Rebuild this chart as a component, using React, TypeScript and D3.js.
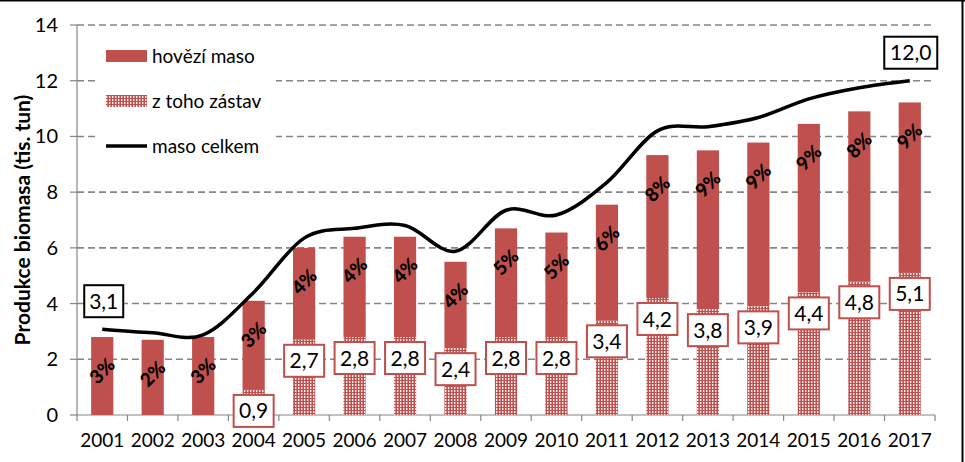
import { useEffect } from "react";
import * as d3 from "d3";

const years = ["2001", "2002", "2003", "2004", "2005", "2006", "2007", "2008", "2009", "2010", "2011", "2012", "2013", "2014", "2015", "2016", "2017"];
// hovězí maso (tis. tun)
const beef = [2.8, 2.7, 2.8, 4.1, 6.0, 6.4, 6.4, 5.5, 6.7, 6.55, 7.55, 9.33, 9.5, 9.78, 10.45, 10.9, 11.22];
// z toho zástav
const zastav: (number | null)[] = [null, null, null, 0.9, 2.7, 2.8, 2.8, 2.4, 2.8, 2.8, 3.4, 4.2, 3.8, 3.9, 4.4, 4.8, 5.1];
// maso celkem
const total = [3.08, 2.95, 2.88, 4.4, 6.35, 6.7, 6.8, 5.88, 7.35, 7.18, 8.35, 10.2, 10.35, 10.68, 11.35, 11.75, 12.0];
const shares = ["3%", "2%", "3%", "3%", "4%", "4%", "4%", "4%", "5%", "5%", "6%", "8%", "9%", "9%", "9%", "8%", "9%"];
const yTicks = [0, 2, 4, 6, 8, 10, 12, 14];

const RED = "#C0504D";
const FONT = "Lato, 'Open Sans', sans-serif";
const fmt = (v: number) => v.toFixed(1).replace(".", ",");

export default function App() {
  useEffect(() => {
    document.body.style.margin = "0";
  }, []);

  const width = 965;
  const height = 462;
  const left = 77;
  const right = 935;
  const top = 25;
  const bottom = 415;

  const x = d3.scaleBand<string>().domain(years).range([left, right]).paddingInner(0.56).paddingOuter(0.28);
  const y = d3.scaleLinear().domain([0, 14]).range([bottom, top]);
  const cx = (yr: string) => (x(yr) as number) + x.bandwidth() / 2;
  const step = x.step();

  const line = d3
    .line<number>()
    .x((_, i) => cx(years[i]))
    .y((d) => y(d))
    .curve(d3.curveCardinal.tension(0));

  return (
    <svg width={width} height={height} style={{ display: "block", background: "#fff" }} fontFamily={FONT}>
      <defs>
        <pattern id="dots" width={3} height={3} patternUnits="userSpaceOnUse">
          <rect width={3} height={3} fill={RED} />
          <rect x={1} y={0} width={1.4} height={2} fill="#fff" opacity={0.9} />
        </pattern>
      </defs>

      {/* gridlines */}
      {yTicks.filter((t) => t > 0).map((t) => (
        <line key={t} x1={left} x2={right} y1={y(t)} y2={y(t)} stroke="#868686" strokeWidth={1.6} strokeDasharray="7,4" />
      ))}

      {/* axes */}
      <line x1={left} x2={left} y1={top} y2={bottom} stroke="#868686" strokeWidth={1.2} />
      <line x1={left} x2={right} y1={bottom} y2={bottom} stroke="#868686" strokeWidth={1.2} />
      {yTicks.map((t) => (
        <g key={t}>
          <line x1={left - 7} x2={left} y1={y(t)} y2={y(t)} stroke="#868686" strokeWidth={1.2} />
          <text x={58} y={y(t)} dy="0.35em" textAnchor="end" fontSize={20} fill="#000">{t}</text>
        </g>
      ))}
      {years.map((yr, i) => (
        <line key={yr} x1={left + step * i} x2={left + step * i} y1={bottom} y2={bottom + 6} stroke="#868686" strokeWidth={1.2} />
      ))}
      <line x1={right} x2={right} y1={bottom} y2={bottom + 6} stroke="#868686" strokeWidth={1.2} />
      {years.map((yr) => (
        <text key={yr} x={cx(yr)} y={440} dy="0.35em" textAnchor="middle" fontSize={19} fill="#000">{yr}</text>
      ))}

      <text transform={`translate(23,220) rotate(-90)`} textAnchor="middle" dy="0.35em" fontSize={21} fontWeight="bold" fill="#000">
        Produkce biomasa (tis. tun)
      </text>

      {/* bars */}
      {years.map((yr, i) => {
        const z = zastav[i] ?? 0;
        return (
          <g key={yr}>
            <rect x={x(yr)} y={y(beef[i])} width={x.bandwidth()} height={y(z) - y(beef[i])} fill={RED} />
            {z > 0 && <rect x={x(yr)} y={y(z)} width={x.bandwidth()} height={y(0) - y(z)} fill="url(#dots)" />}
          </g>
        );
      })}

      {/* share labels */}
      {years.map((yr, i) => (
        <text key={yr} transform={`translate(${cx(yr)},${y(beef[i]) + 34}) rotate(-45)`} textAnchor="middle" dy="0.35em" fontSize={19} fontWeight={900} fill="#000">
          {shares[i]}
        </text>
      ))}

      {/* zástav labels */}
      {years.map((yr, i) => {
        const z = zastav[i];
        if (z == null) return null;
        const ty = y(z) + 5;
        return (
          <g key={yr}>
            <rect x={cx(yr) - 20} y={ty} width={40} height={32} fill="#fff" stroke={RED} strokeWidth={2} />
            <text x={cx(yr)} y={ty + 16} dy="0.36em" textAnchor="middle" fontSize={21} fill="#000">{fmt(z)}</text>
          </g>
        );
      })}

      {/* total line */}
      <path d={line(total) ?? ""} fill="none" stroke="#000" strokeWidth={3.5} />
      {[0, years.length - 1].map((i) => {
        const w = i === 0 ? 39 : 53;
        const bx = i === 0 ? cx(years[i]) - 18 : cx(years[i]) - w / 2 + 1;
        const by = y(total[i]) - 12 - 32;
        return (
          <g key={i}>
            <rect x={bx} y={by} width={w} height={32} fill="#fff" stroke="#000" strokeWidth={2} />
            <text x={bx + w / 2} y={by + 16} dy="0.36em" textAnchor="middle" fontSize={21} fill="#000">{fmt(total[i])}</text>
          </g>
        );
      })}

      {/* legend */}
      <rect x={96} y={34} width={180} height={130} fill="#fff" />
      <rect x={106} y={50} width={41} height={12} fill={RED} />
      <text x={152} y={56} dy="0.35em" fontSize={19} fill="#000">hovězí maso</text>
      <rect x={106} y={95} width={41} height={12} fill="url(#dots)" />
      <text x={152} y={101} dy="0.35em" fontSize={19} fill="#000">z toho zástav</text>
      <line x1={106} x2={147} y1={146} y2={146} stroke="#000" strokeWidth={3.5} />
      <text x={152} y={146} dy="0.35em" fontSize={19} fill="#000">maso celkem</text>

      {/* image frame */}
      <line x1={0} x2={width} y1={0.75} y2={0.75} stroke="#000" strokeWidth={1.5} />
      <line x1={962.5} x2={962.5} y1={0} y2={height} stroke="#000" strokeWidth={2} />
    </svg>
  );
}
